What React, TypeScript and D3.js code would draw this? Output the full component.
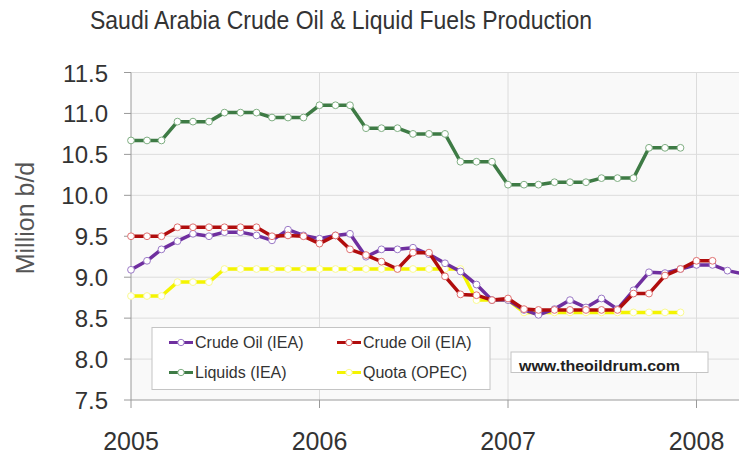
import React, { useRef, useEffect } from 'react';
import * as d3 from 'd3';

// monthly series, Jan 2005 onward
const startMonth = new Date(2005, 0, 1);

const crudeIEA = [
    9.09, 9.20, 9.34, 9.44, 9.53, 9.50, 9.55, 9.55, 9.51, 9.45, 9.58, 9.51,
    9.47, 9.51, 9.53, 9.25, 9.34, 9.34, 9.36, 9.28, 9.17, 9.07, 8.91, 8.72,
    8.72, 8.60, 8.54, 8.61, 8.72, 8.63, 8.74, 8.61, 8.84, 9.06, 9.05, 9.10,
    9.15, 9.15, 9.08, 9.04,
];
const crudeEIA = [
    9.50, 9.50, 9.50, 9.61, 9.61, 9.61, 9.61, 9.61, 9.61, 9.50, 9.51, 9.50,
    9.41, 9.51, 9.34, 9.27, 9.19, 9.10, 9.30, 9.30, 9.01, 8.79, 8.78, 8.72,
    8.74, 8.61, 8.60, 8.60, 8.60, 8.60, 8.60, 8.60, 8.80, 8.80, 9.02, 9.10,
    9.20, 9.20,
];
const liquidsIEA = [
    10.67, 10.67, 10.67, 10.90, 10.90, 10.90, 11.01, 11.01, 11.01, 10.95, 10.95, 10.95,
    11.10, 11.10, 11.10, 10.82, 10.82, 10.82, 10.75, 10.75, 10.75, 10.41, 10.41, 10.41,
    10.13, 10.13, 10.13, 10.16, 10.16, 10.16, 10.21, 10.21, 10.21, 10.58, 10.58, 10.58,
];
const quotaOPEC = [
    8.77, 8.77, 8.77, 8.94, 8.94, 8.94, 9.10, 9.10, 9.10, 9.10, 9.10, 9.10,
    9.10, 9.10, 9.10, 9.10, 9.10, 9.10, 9.10, 9.10, 9.10, 9.10, 8.72, 8.72,
    8.72, 8.57, 8.57, 8.57, 8.57, 8.57, 8.57, 8.57, 8.57, 8.57, 8.57, 8.57,
];

const yTicks = [7.5, 8.0, 8.5, 9.0, 9.5, 10.0, 10.5, 11.0, 11.5];
const yearTicks = [2005, 2006, 2007, 2008];

const seriesInfo = [
    { name: 'Liquids (IEA)', values: liquidsIEA, line: '#3e7b45', marker: '#7fae82' },
    { name: 'Quota (OPEC)', values: quotaOPEC, line: '#f4f400', marker: '#fafa90' },
    { name: 'Crude Oil (IEA)', values: crudeIEA, line: '#6f2f9f', marker: '#9a78c6' },
    { name: 'Crude Oil (EIA)', values: crudeEIA, line: '#b00d0d', marker: '#e07070' },
];

const legendOrder = ['Crude Oil (IEA)', 'Crude Oil (EIA)', 'Liquids (IEA)', 'Quota (OPEC)'];

const W = 739;
const H = 459;

export default function App() {
    const svgRef = useRef<SVGSVGElement>(null);

    useEffect(() => {
        document.body.style.margin = '0';
        if (!svgRef.current) return;
        const svg = d3.select(svgRef.current);
        svg.selectAll('*').remove();

        const left = 131, top = 72.5, bottom = 400;
        const x = d3.scaleTime()
            .domain([new Date(2005, 0, 1), new Date(2008, 0, 1)])
            .range([left, 696.5]);
        const y = d3.scaleLinear().domain([7.5, 11.5]).range([bottom, top]);

        const font = 'Liberation Sans, Arial, sans-serif';

        // background
        svg.append('rect').attr('width', W).attr('height', H).attr('fill', '#fff');
        svg.append('rect')
            .attr('x', left).attr('y', top)
            .attr('width', W - left).attr('height', bottom - top)
            .attr('fill', '#f9f9f9');

        // grid
        svg.append('g').selectAll('line')
            .data(yTicks.slice(1))
            .join('line')
            .attr('x1', left).attr('x2', W)
            .attr('y1', d => y(d)).attr('y2', d => y(d))
            .attr('stroke', '#dcdcdc').attr('stroke-width', 1);
        svg.append('g').selectAll('line')
            .data(yearTicks.slice(1))
            .join('line')
            .attr('x1', d => x(new Date(d, 0, 1))).attr('x2', d => x(new Date(d, 0, 1)))
            .attr('y1', top).attr('y2', bottom)
            .attr('stroke', '#dcdcdc').attr('stroke-width', 1);

        // axes
        const axisColor = '#9a9a9a';
        svg.append('line').attr('x1', left).attr('x2', left).attr('y1', top).attr('y2', bottom)
            .attr('stroke', axisColor);
        svg.append('line').attr('x1', left).attr('x2', W).attr('y1', bottom).attr('y2', bottom)
            .attr('stroke', axisColor);

        svg.append('g').selectAll('line')
            .data(yTicks)
            .join('line')
            .attr('x1', left - 7).attr('x2', left)
            .attr('y1', d => y(d)).attr('y2', d => y(d))
            .attr('stroke', axisColor);
        svg.append('g').selectAll('text')
            .data(yTicks)
            .join('text')
            .attr('x', 108).attr('y', d => y(d) + 9)
            .attr('text-anchor', 'end')
            .attr('font-family', font).attr('font-size', 24)
            .attr('fill', '#333')
            .text(d => d.toFixed(1));

        svg.append('g').selectAll('line')
            .data(yearTicks)
            .join('line')
            .attr('x1', d => x(new Date(d, 0, 1))).attr('x2', d => x(new Date(d, 0, 1)))
            .attr('y1', bottom).attr('y2', bottom + 8)
            .attr('stroke', axisColor);
        svg.append('g').selectAll('text')
            .data(yearTicks)
            .join('text')
            .attr('x', d => x(new Date(d, 0, 1))).attr('y', 450)
            .attr('text-anchor', 'middle')
            .attr('font-family', font).attr('font-size', 25)
            .attr('fill', '#333')
            .text(d => String(d));

        // y label
        svg.append('text')
            .attr('transform', 'translate(34,218) rotate(-90)')
            .attr('text-anchor', 'middle')
            .attr('font-family', font).attr('font-size', 25)
            .attr('fill', '#555')
            .text('Million b/d');

        // title
        svg.append('text')
            .attr('x', 90).attr('y', 29)
            .attr('font-family', font).attr('font-size', 26)
            .attr('fill', '#333')
            .attr('textLength', 502).attr('lengthAdjust', 'spacingAndGlyphs')
            .text('Saudi Arabia Crude Oil & Liquid Fuels Production');

        // series
        const line = d3.line<number>()
            .x((_, i) => x(d3.timeMonth.offset(startMonth, i)))
            .y(d => y(d));

        seriesInfo.forEach(s => {
            const g = svg.append('g');
            g.append('path')
                .datum(s.values)
                .attr('d', line)
                .attr('fill', 'none')
                .attr('stroke', s.line)
                .attr('stroke-width', 3.5)
                .attr('stroke-linejoin', 'round');
            g.selectAll('circle')
                .data(s.values)
                .join('circle')
                .attr('cx', (_, i) => x(d3.timeMonth.offset(startMonth, i)))
                .attr('cy', d => y(d))
                .attr('r', 3.4)
                .attr('fill', '#fff')
                .attr('stroke', s.marker)
                .attr('stroke-width', 1);
        });

        // legend
        const lg = svg.append('g');
        lg.append('rect')
            .attr('x', 152).attr('y', 327.5).attr('width', 338).attr('height', 62)
            .attr('fill', '#fff').attr('stroke', '#c4c4c4');
        const cols = [169, 337];
        const rows = [342.5, 372.5];
        legendOrder.forEach((name, k) => {
            const s = seriesInfo.find(d => d.name === name)!;
            const lx = cols[k % 2];
            const ly = rows[Math.floor(k / 2)];
            lg.append('line')
                .attr('x1', lx).attr('x2', lx + 24).attr('y1', ly).attr('y2', ly)
                .attr('stroke', s.line).attr('stroke-width', 3);
            lg.append('circle')
                .attr('cx', lx + 12).attr('cy', ly).attr('r', 3.2)
                .attr('fill', '#fff').attr('stroke', s.marker);
            lg.append('text')
                .attr('x', lx + 26).attr('y', ly + 5.5)
                .attr('font-family', font).attr('font-size', 16)
                .attr('fill', '#333')
                .text(name);
        });

        // watermark
        svg.append('rect')
            .attr('x', 511).attr('y', 352).attr('width', 197).attr('height', 20.5)
            .attr('fill', '#fff').attr('stroke', '#c4c4c4');
        svg.append('text')
            .attr('x', 519).attr('y', 370.5)
            .attr('font-family', font).attr('font-size', 14).attr('font-weight', 'bold')
            .attr('fill', '#222')
            .attr('textLength', 161).attr('lengthAdjust', 'spacingAndGlyphs')
            .text('www.theoildrum.com');
    }, []);

    return <svg ref={svgRef} width={W} height={H} style={{ display: 'block' }} />;
}
